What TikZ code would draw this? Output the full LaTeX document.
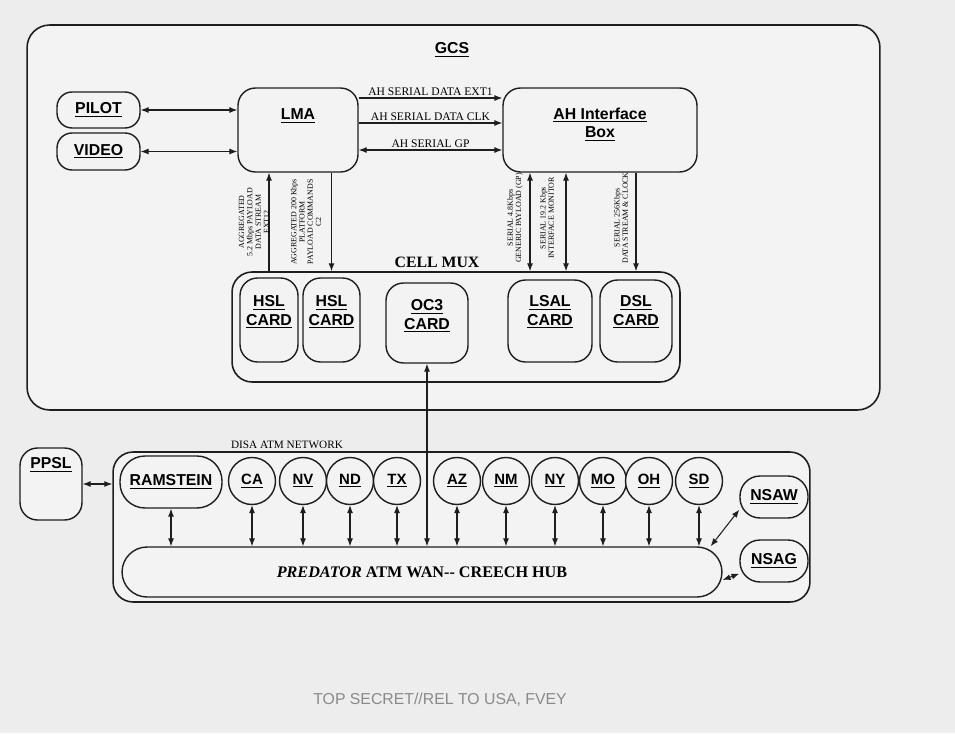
\documentclass[tikz,border=0pt]{standalone}
\usepackage{fontspec}
\setmainfont{Liberation Serif}
\setsansfont{Liberation Sans}
\usetikzlibrary{arrows.meta,positioning,calc}
\definecolor{paper}{HTML}{EDEDED}
\definecolor{panel}{HTML}{F3F3F3}
\definecolor{ink}{HTML}{1E1E1E}
\definecolor{stamp}{HTML}{8A8A8A}

\begin{document}
\begin{tikzpicture}[
  x=0.02cm, y=-0.02cm,
  frame/.style={draw=ink,line width=0.9pt,rounded corners=4.5mm,fill=panel},
  box/.style={draw=ink,line width=0.8pt,rounded corners=3.5mm,fill=panel,inner sep=0pt},
  site/.style={circle,draw=ink,line width=0.8pt,fill=panel,minimum size=9.4mm,inner sep=0pt,font=\sffamily\bfseries\fontsize{8.5}{10}\selectfont},
  ttl/.style={anchor=north,align=center,inner sep=0pt,font=\sffamily\bfseries\fontsize{9}{10.5}\selectfont},
  lbl/.style={align=center,font=\sffamily\bfseries\fontsize{9}{10.5}\selectfont},
  wire/.style={font=\fontsize{6.6}{7}\selectfont,inner sep=1pt},
  rate/.style={rotate=90,align=center,inner sep=0pt,font=\fontsize{4.5}{4.7}\selectfont},
  arr/.style={-{Latex[length=4.5pt,width=3.4pt]},line width=0.6pt,draw=ink},
  dbl/.style={{Latex[length=4.5pt,width=3.4pt]}-{Latex[length=4.5pt,width=3.4pt]},line width=0.6pt,draw=ink}
]
\fill[paper] (0,0) rectangle (955,733);

% ground control station
\node[frame,minimum width=170.6mm,minimum height=77mm] (gcs) at (453.5,217.5) {};
\node[font=\sffamily\bfseries\fontsize{9}{10}\selectfont] (gcstitle) at (452,50) {\underline{GCS}};
\node[box,rounded corners=3mm,minimum width=16.6mm,minimum height=7.2mm,lbl] (pilot) at (98.5,110) {\underline{PILOT}};
\node[box,rounded corners=3mm,minimum width=16.6mm,minimum height=7.4mm,lbl] (video) at (98.5,151.5) {\underline{VIDEO}};
\node[box,minimum width=24mm,minimum height=16.8mm,label={[ttl,yshift=-4.2mm]north:\underline{LMA}}] (lma) at (298,130) {};
\node[box,minimum width=38.8mm,minimum height=16.8mm,label={[ttl,yshift=-4mm]north:{\underline{AH Interface}\\\underline{Box}}}] (ah) at (600,130) {};

\node[frame,rounded corners=4mm,minimum width=89.6mm,minimum height=22mm] (cellmux) at (456,327) {};
\node[font=\bfseries\fontsize{9}{10}\selectfont] (muxtitle) at (437,262) {CELL MUX};
\node[box,minimum width=11.6mm,minimum height=16.8mm,label={[ttl,yshift=-3.6mm]north:{\underline{HSL}\\\underline{CARD}}}] (hsla) at (269,320) {};
\node[box,minimum width=11.4mm,minimum height=16.8mm,label={[ttl,yshift=-3.6mm]north:{\underline{HSL}\\\underline{CARD}}}] (hslb) at (331.5,320) {};
\node[box,minimum width=16.4mm,minimum height=16mm,label={[ttl,yshift=-3.4mm]north:{\underline{OC3}\\\underline{CARD}}}] (oc3) at (427,323) {};
\node[box,minimum width=16.8mm,minimum height=16.4mm,label={[ttl,yshift=-3.2mm]north:{\underline{LSAL}\\\underline{CARD}}}] (lsal) at (550,321) {};
\node[box,minimum width=14.4mm,minimum height=16.4mm,label={[ttl,yshift=-3.2mm]north:{\underline{DSL}\\\underline{CARD}}}] (dsl) at (636,321) {};

\draw[dbl] (pilot) -- (pilot -| lma.west);
\draw[dbl] (video) -- (video -| lma.west);
\draw[arr] (lma.east |- 0,98) -- node[wire,above]{AH SERIAL DATA EXT1} (ah.west |- 0,98);
\draw[arr] (lma.east |- 0,123) -- node[wire,above]{AH SERIAL DATA CLK} (ah.west |- 0,123);
\draw[dbl] (lma.east |- 0,150) -- node[wire,above]{AH SERIAL GP} (ah.west |- 0,150);

\draw[arr] (cellmux.north -| hsla) -- (lma.south -| hsla);
\draw[arr] (lma.south -| hslb) -- (cellmux.north -| hslb);
\draw[dbl] (ah.south -| 530,0) -- (cellmux.north -| 530,0);
\draw[dbl] (ah.south -| 566,0) -- (cellmux.north -| 566,0);
\draw[arr] (ah.south -| dsl) -- (cellmux.north -| dsl);
\node[rate] (ratehsla) at (254,222) {AGGREGATED\\5.2 Mbps PAYLOAD\\DATA STREAM\\EXT12};
\node[rate] (ratehslb) at (306,222) {AGGREGATED 200 Kbps\\PLATFORM\\PAYLOAD COMMANDS\\C2};
\node[rate] (ratelsal) at (515,218) {SERIAL 4.8Kbps\\GENERIC PAYLOAD (GP)};
\node[rate] (ratemon) at (547,218) {SERIAL 19.2 Kbps\\INTERFACE MONITOR};
\node[rate] (ratedsl) at (621,218) {SERIAL 256Kbps\\DATA STREAM \& CLOCK};

% DISA network
\node[frame,rounded corners=4mm,minimum width=139.4mm,minimum height=30mm] (disa) at (461.5,527) {};
\node[font=\fontsize{6.4}{7}\selectfont] (disatitle) at (287,445) {DISA ATM NETWORK};
\node[box,minimum width=12.4mm,minimum height=14.4mm,label={[ttl,yshift=-2mm]north:\underline{PPSL}}] (ppsl) at (51,484) {};
\node[box,rounded corners=5mm,minimum width=20.4mm,minimum height=10.4mm,lbl] (ram) at (171,482) {\underline{RAMSTEIN}};
\node[site] (ca) at (252,481) {\underline{CA}};
\node[site] (nv) at (303,481) {\underline{NV}};
\node[site] (nd) at (350,481) {\underline{ND}};
\node[site] (tx) at (397,481) {\underline{TX}};
\node[site] (az) at (457,481) {\underline{AZ}};
\node[site] (nm) at (506,481) {\underline{NM}};
\node[site] (ny) at (555,481) {\underline{NY}};
\node[site] (mo) at (603,481) {\underline{MO}};
\node[site] (oh) at (649,481) {\underline{OH}};
\node[site] (sd) at (699,481) {\underline{SD}};
\node[box,rounded corners=4mm,minimum width=13.6mm,minimum height=8.4mm,lbl] (nsaw) at (774,497) {\underline{NSAW}};
\node[box,rounded corners=4mm,minimum width=13.6mm,minimum height=8.4mm,lbl] (nsag) at (774,561) {\underline{NSAG}};
\node[box,rounded corners=5mm,minimum width=120mm,minimum height=10mm,font=\bfseries\fontsize{9.2}{10}\selectfont] (hub) at (422,572) {\textit{PREDATOR} ATM WAN-{}- CREECH HUB};

\draw[dbl] (oc3) -- (oc3 |- hub.north);
\draw[dbl] (ppsl) -- (ppsl -| disa.west);
\draw[dbl] (ram) -- (ram |- hub.north);
\draw[dbl] (ca) -- (ca |- hub.north);
\draw[dbl] (nv) -- (nv |- hub.north);
\draw[dbl] (nd) -- (nd |- hub.north);
\draw[dbl] (tx) -- (tx |- hub.north);
\draw[dbl] (az) -- (az |- hub.north);
\draw[dbl] (nm) -- (nm |- hub.north);
\draw[dbl] (ny) -- (ny |- hub.north);
\draw[dbl] (mo) -- (mo |- hub.north);
\draw[dbl] (oh) -- (oh |- hub.north);
\draw[dbl] (sd) -- (sd |- hub.north);
\draw[dbl] ([xshift=-2.4mm]hub.north east) -- (nsaw.200);
\draw[dbl] ([yshift=-1.6mm]hub.east) -- (nsag.200);

\node[font=\sffamily\fontsize{9}{10}\selectfont,text=stamp] (mark) at (440,700) {TOP SECRET//REL TO USA, FVEY};
\end{tikzpicture}
\end{document}
